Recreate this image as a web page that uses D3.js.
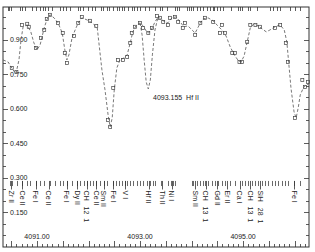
<!DOCTYPE html>
<html>
<head>
<meta charset="utf-8">
<script src="https://cdn.jsdelivr.net/npm/d3@7"></script>
<style>
  body { margin: 0; background: #fff; }
  svg { display: block; font-family: "Liberation Sans", Arial, sans-serif; }
</style>
</head>
<body>
<svg id="chart" width="315" height="252"></svg>
<script>
// synthetic spectrum (wavelength, normalized flux)
const synthWl = [4090.34,4090.44,4090.51,4090.59,4090.65,4090.69,4090.73,4090.81,4090.88,4090.94,
  4091.00,4091.06,4091.14,4091.19,4091.25,4091.33,4091.41,4091.49,4091.54,4091.58,
  4091.62,4091.68,4091.74,4091.80,4091.87,4091.97,4092.07,4092.17,4092.20,4092.26,
  4092.32,4092.38,4092.42,4092.46,4092.50,4092.55,4092.61,4092.69,4092.75,4092.81,
  4092.86,4092.92,4093.00,4093.06,4093.12,4093.16,4093.21,4093.29,4093.35,4093.45,
  4093.54,4093.62,4093.70,4093.78,4093.85,4093.93,4094.01,4094.07,4094.15,4094.22,
  4094.32,4094.42,4094.51,4094.59,4094.67,4094.75,4094.83,4094.91,4094.96,4095.02,
  4095.08,4095.14,4095.21,4095.29,4095.37,4095.45,4095.52,4095.62,4095.72,4095.80,
  4095.85,4095.89,4095.93,4095.99,4096.03,4096.07,4096.11,4096.17,4096.22,4096.28];
const synthFlux = [0.813,0.804,0.778,0.752,0.813,0.900,0.957,0.965,0.935,0.887,
  0.857,0.878,0.952,0.987,1.009,0.996,0.974,0.930,0.857,0.813,
  0.835,0.909,0.943,0.974,0.996,0.987,0.974,0.952,0.891,0.770,
  0.683,0.574,0.522,0.561,0.683,0.778,0.813,0.822,0.835,0.887,
  0.935,0.961,0.974,0.961,0.939,0.930,0.939,0.978,1.000,0.983,
  0.974,0.996,1.000,0.978,0.957,0.961,0.943,0.930,0.965,0.991,
  0.996,0.983,0.961,0.943,0.917,0.870,0.835,0.809,0.804,0.830,
  0.891,0.952,0.970,0.961,0.948,0.935,0.943,0.957,0.965,0.943,
  0.891,0.791,0.691,0.587,0.561,0.604,0.661,0.691,0.704,0.709];

// synthesis with the Hf II line switched on
const hfWl = [4093.00,4093.04,4093.08,4093.12,4093.16,4093.20,4093.24,4093.29,4093.35];
const hfFlux = [0.974,0.922,0.813,0.717,0.687,0.726,0.835,0.943,1.000];

// observed points
const obsWl = [4090.51,4090.60,4090.71,4090.81,4090.84,4090.98,4091.08,4091.14,4091.19,4091.25,
  4091.41,4091.50,4091.54,4091.58,4091.72,4091.80,4091.87,4092.03,4092.15,4092.38,
  4092.42,4092.48,4092.57,4092.67,4092.75,4092.81,4092.84,4092.90,4093.00,4093.06,
  4093.16,4093.23,4093.33,4093.39,4093.45,4093.54,4093.58,4093.68,4093.74,4093.83,
  4093.87,4094.07,4094.17,4094.26,4094.42,4094.55,4094.59,4094.65,4094.79,4094.84,
  4094.93,4094.98,4095.08,4095.14,4095.24,4095.33,4095.62,4095.72,4095.83,4095.87,
  4096.01,4096.15,4096.20,4096.26];
const obsFlux = [0.778,0.761,0.965,0.970,0.957,0.865,0.909,0.943,0.991,1.009,
  0.974,0.930,0.843,0.800,0.917,0.974,1.000,0.983,0.961,0.552,
  0.522,0.691,0.813,0.813,0.826,0.887,0.930,0.957,0.974,0.952,
  0.930,0.952,1.004,0.996,0.978,0.965,0.996,1.000,0.978,0.952,
  0.974,0.922,0.974,0.996,0.978,0.930,0.965,0.930,0.843,0.843,
  0.804,0.804,0.891,0.965,0.965,0.957,0.952,0.965,0.887,0.804,
  0.561,0.726,0.696,0.717];

// line identifications
const lineWl = [4090.50,4090.71,4090.98,4091.23,4091.58,4091.78,4091.97,4092.15,4092.30,4092.48,
  4092.71,4093.17,4093.43,4093.62,4094.07,4094.28,4094.50,4094.69,4094.94,4095.14,4095.33,4095.99];
const lineLabel = ["Zr II","Ce II","Fe I","Ce II","Fe I","Dy II","CH   12  1","Ce II","Sm II","Fe I",
  "V I","Hf II","Th II","Ni I","Sm II","CH   13  1","Gd II","Er II","Ca I","CH   13  1","SiH   28  1","Fe I"];
// all lines of the list (short markers)
const lineListWl = [4090.48,4090.51,4090.61,4090.71,4090.81,4090.86,4090.98,4091.06,4091.14,4091.25,
  4091.35,4091.45,4091.50,4091.58,4091.68,4091.78,4091.83,4091.91,4091.97,4092.03,
  4092.09,4092.15,4092.22,4092.30,4092.36,4092.48,4092.53,4092.59,4092.65,4092.71,
  4092.75,4092.81,4092.86,4092.94,4093.00,4093.06,4093.14,4093.19,4093.25,4093.29,
  4093.41,4093.54,4093.60,4093.64,4093.68,4094.01,4094.03,4094.11,4094.17,4094.22,
  4094.26,4094.32,4094.40,4094.46,4094.51,4094.59,4094.65,4094.75,4094.84,4094.98,
  4095.04,4095.10,4095.17,4095.23,4095.29,4095.37,4095.43,4095.49,4095.56,4095.62,
  4095.68,4095.76,4095.82,4095.87,4095.99,4096.11];
// ticks on the top frame
const topTickWl = [4090.44,4090.46,4090.50,4090.67,4090.71,4090.77,4090.90,4090.98,4091.06,4091.12,
  4091.16,4091.21,4091.29,4091.45,4091.50,4091.56,4091.64,4091.80,4091.83,4091.89,
  4091.99,4092.07,4092.13,4092.24,4092.28,4092.36,4092.39,4092.48,4092.55,4092.59,
  4092.65,4092.69,4092.77,4092.84,4092.88,4092.94,4093.00,4093.10,4093.17,4093.29,
  4093.39,4093.43,4093.52,4093.68,4093.72,4093.76,4093.91,4093.95,4093.99,4094.03,
  4094.11,4094.17,4094.22,4094.30,4094.36,4094.42,4094.44,4094.50,4094.55,4094.61,
  4094.77,4094.90,4094.94,4094.98,4095.10,4095.14,4095.27,4095.52,4095.58,4095.66,
  4095.72,4095.91,4096.01,4096.11];

const yLabels = [0.150,0.300,0.450,0.600,0.750,0.900];
const xLabels = [4091,4093,4095];
const hfNote = "4093.155  Hf II";

const svg = d3.select("#chart");
const x = d3.scaleLinear().domain([4090.34, 4096.28]).range([3, 309]);
const y = d3.scaleLinear().domain([0, 1.043]).range([247, 7]);
const ink = "#333";

// frame
svg.append("rect")
  .attr("x", 3).attr("y", 7).attr("width", 306).attr("height", 240)
  .attr("fill", "none").attr("stroke", ink).attr("stroke-width", 1);

// left / right ticks
const yMinor = d3.range(0.05, 1.04, 0.05);
svg.append("g").selectAll("line").data(yMinor).enter().append("line")
  .attr("x1", 3).attr("x2", d => (Math.round(d * 100) % 15 === 0) ? 8 : 6)
  .attr("y1", d => Math.round(y(d)) + 0.5).attr("y2", d => Math.round(y(d)) + 0.5)
  .attr("stroke", ink).attr("stroke-width", 0.8);
svg.append("g").selectAll("line").data(yMinor).enter().append("line")
  .attr("x1", 309).attr("x2", d => (Math.round(d * 100) % 15 === 0) ? 304 : 306)
  .attr("y1", d => Math.round(y(d)) + 0.5).attr("y2", d => Math.round(y(d)) + 0.5)
  .attr("stroke", ink).attr("stroke-width", 0.8);

svg.append("g").selectAll("text").data(yLabels).enter().append("text")
  .attr("x", 10).attr("y", d => y(d) + 2.5)
  .attr("font-size", 7).attr("fill", "#222")
  .text(d => d3.format(".3f")(d));

// bottom ticks
const xMinor = d3.range(4090.4, 4096.28, 0.1);
svg.append("g").selectAll("line").data(xMinor).enter().append("line")
  .attr("x1", d => Math.round(x(d)) + 0.5).attr("x2", d => Math.round(x(d)) + 0.5)
  .attr("y1", 247)
  .attr("y2", d => (Math.round(d * 10) % 5 === 0) ? 241 : 244)
  .attr("stroke", ink).attr("stroke-width", 0.8);

svg.append("g").selectAll("text").data(xLabels).enter().append("text")
  .attr("x", d => x(d)).attr("y", 239)
  .attr("text-anchor", "middle").attr("font-size", 7).attr("fill", "#222")
  .text(d => d3.format(".2f")(d));

// top ticks
svg.append("g").selectAll("line").data(topTickWl).enter().append("line")
  .attr("x1", d => Math.round(x(d)) + 0.5).attr("x2", d => Math.round(x(d)) + 0.5)
  .attr("y1", 7).attr("y2", 11)
  .attr("stroke", ink).attr("stroke-width", 0.8);

// synthetic spectra
const line = d3.line().x(d => x(d[0])).y(d => y(d[1]));
svg.append("path")
  .datum(d3.zip(synthWl, synthFlux))
  .attr("d", line)
  .attr("fill", "none").attr("stroke", "#555").attr("stroke-width", 0.8)
  .attr("stroke-dasharray", "3,2");
svg.append("path")
  .datum(d3.zip(hfWl, hfFlux))
  .attr("d", line)
  .attr("fill", "none").attr("stroke", "#555").attr("stroke-width", 0.8)
  .attr("stroke-dasharray", "3,2");

// observed points
svg.append("g").selectAll("rect").data(d3.zip(obsWl, obsFlux)).enter().append("rect")
  .attr("x", d => x(d[0]) - 1.5).attr("y", d => y(d[1]) - 1.5)
  .attr("width", 3).attr("height", 3)
  .attr("fill", "none").attr("stroke", "#444").attr("stroke-width", 0.7);

// annotation
svg.append("text")
  .attr("x", x(4093.155) + 5).attr("y", y(0.64))
  .attr("font-size", 7).attr("fill", "#222")
  .style("white-space", "pre")
  .text(hfNote);

// line list markers
svg.append("g").selectAll("line").data(lineListWl).enter().append("line")
  .attr("x1", d => Math.round(x(d)) + 0.5).attr("x2", d => Math.round(x(d)) + 0.5)
  .attr("y1", y(0.287)).attr("y2", y(0.265))
  .attr("stroke", "#444").attr("stroke-width", 0.8);

const ids = svg.append("g").selectAll("g").data(d3.zip(lineWl, lineLabel)).enter().append("g");
ids.append("line")
  .attr("x1", d => Math.round(x(d[0])) + 0.5).attr("x2", d => Math.round(x(d[0])) + 0.5)
  .attr("y1", y(0.287)).attr("y2", y(0.250))
  .attr("stroke", "#333").attr("stroke-width", 0.8);
ids.append("text")
  .attr("transform", d => `translate(${x(d[0]) - 2.5},${y(0.245)}) rotate(90)`)
  .attr("font-size", 7).attr("fill", "#222")
  .style("white-space", "pre")
  .text(d => d[1]);
</script>
</body>
</html>
